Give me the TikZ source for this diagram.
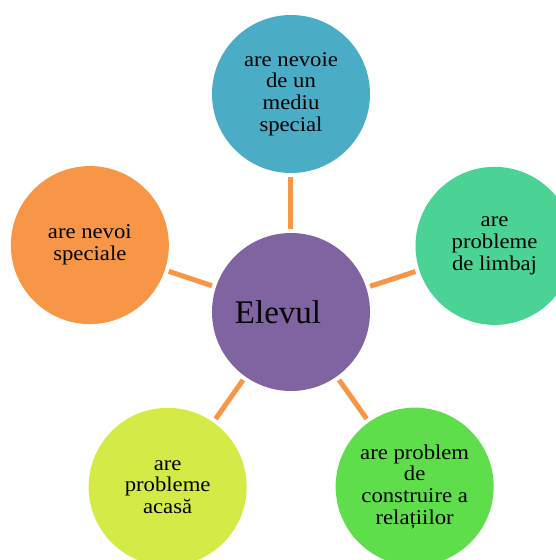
\documentclass[tikz,border=0pt]{standalone}
\usepackage{fontspec}
\setmainfont{Liberation Serif}
\newfontfamily\bubblefont[FakeStretch=1.08]{Liberation Serif}
\definecolor{elevpurple}{HTML}{8064A2}
\definecolor{skyblue}{HTML}{4BACC6}
\definecolor{seagreen}{HTML}{4AD395}
\definecolor{leafgreen}{HTML}{5EDE4B}
\definecolor{limegreen}{HTML}{D4EA46}
\definecolor{warmorange}{HTML}{F79646}
\tikzset{
    bubble/.style = {circle, inner sep=0pt, minimum size=158pt, align=center, text=black, font=\bubblefont\fontsize{21}{21.7}\selectfont},
    purple_bubble/.style = {bubble, fill=elevpurple, font=\rmfamily\fontsize{33}{40}\selectfont},
    blue_bubble/.style = {bubble, fill=skyblue},
    teal_bubble/.style = {bubble, fill=seagreen},
    green_bubble/.style = {bubble, fill=leafgreen},
    lime_bubble/.style = {bubble, fill=limegreen},
    orange_bubble/.style = {bubble, fill=warmorange},
    link/.style = {draw=warmorange, line width=5pt, shorten <=4pt, shorten >=4pt}
}
\begin{document}
\begin{tikzpicture}[x=1pt, y=1pt]
    \useasboundingbox (-291,-248) rectangle (265,312);
    % centre
    \node [purple_bubble] (elev) at (0,0) {Elevul\hspace{26pt}};
    % around it
    \node [blue_bubble] (nevoie) at (90:218) {are nevoie\\de un\\mediu\\special};
    \node [teal_bubble] (limbaj) at (18:214) {are\\probleme\\de limbaj};
    \node [green_bubble] (relatii) at (-54.7:214) {are problem\\de\\construire a\\relațiilor};
    \node [lime_bubble] (acasa) at (-125.2:214) {are\\probleme\\acasă};
    \node [orange_bubble] (speciale) at (161.6:212) {are nevoi\\speciale};
    % links
    \draw [link] (elev) -- (nevoie);
    \draw [link] (elev) -- (limbaj);
    \draw [link] (elev) -- (relatii);
    \draw [link] (elev) -- (acasa);
    \draw [link] (elev) -- (speciale);
\end{tikzpicture}
\end{document}
